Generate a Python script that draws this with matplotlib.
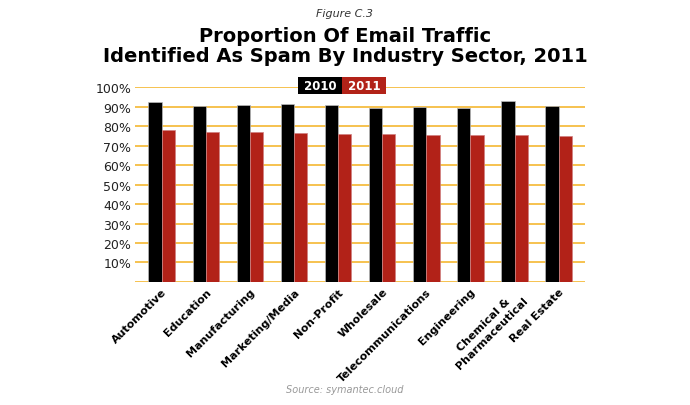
import matplotlib
matplotlib.use("Agg")
import matplotlib.pyplot as plt
import numpy as np
from matplotlib import font_manager as fm

names = {f.name for f in fm.fontManager.ttflist}
NARROW = "Liberation Sans Narrow" if "Liberation Sans Narrow" in names else "DejaVu Sans"

categories = ["Automotive", "Education", "Manufacturing", "Marketing/Media", "Non-Profit",
              "Wholesale", "Telecommunications", "Engineering", "Chemical &\nPharmaceutical", "Real Estate"]
v2010 = [92.3, 90.5, 90.8, 91.1, 91.0, 89.2, 89.6, 89.5, 93.0, 90.2]
v2011 = [78.0, 77.0, 76.8, 76.5, 76.0, 76.0, 75.5, 75.5, 75.3, 75.0]
yticks = [10, 20, 30, 40, 50, 60, 70, 80, 90, 100]

fig = plt.figure(figsize=(6.9, 4.06), dpi=100)
ax = fig.add_axes([0.196, 0.303, 0.652, 0.48])
x = np.arange(len(categories))
w = 0.3
ax.bar(x - w/2, v2010, w, color="black", edgecolor="#bbbbbb", linewidth=0.5, zorder=3)
ax.bar(x + w/2, v2011, w, color="#b22218", edgecolor="#d08080", linewidth=0.5, zorder=3)
ax.set_ylim(0, 100)
ax.set_xlim(-0.6, len(categories) - 0.4)
ax.set_yticks(yticks)
ax.set_yticklabels([f"{t}%" for t in yticks], fontsize=9, color="#222222")
for t in yticks:
    ax.axhline(t, color="#f5b731", lw=1.2, zorder=1)
ax.axhline(0, color="#f5b731", lw=1.2, zorder=1)
ax.tick_params(length=0, pad=3)
ax.set_xticks(x)
ax.set_xticklabels(categories, rotation=45, ha="right", rotation_mode="anchor",
                   fontsize=8, fontweight="bold", family=NARROW, multialignment="center")
for s in ax.spines.values():
    s.set_visible(False)

fig.text(0.5, 0.965, "Figure C.3", ha="center", va="center", fontsize=8, style="italic", color="#333333")
fig.text(0.5, 0.885, "Proportion Of Email Traffic\nIdentified As Spam By Industry Sector, 2011",
         ha="center", va="center", fontsize=14, fontweight="bold", linespacing=1.05, family=NARROW)
fig.text(0.5, 0.04, "Source: symantec.cloud", ha="center", va="center", fontsize=7,
         style="italic", color="#999999")
fig.text(0.494, 0.787, " 2010 ", ha="right", va="center", fontsize=8.5, fontweight="bold",
         color="white", family=NARROW, bbox=dict(boxstyle="square,pad=0.15", fc="black", ec="none"))
fig.text(0.498, 0.787, " 2011 ", ha="left", va="center", fontsize=8.5, fontweight="bold",
         color="white", family=NARROW, bbox=dict(boxstyle="square,pad=0.15", fc="#b22218", ec="none"))
fig.savefig("out.png", dpi=100)
